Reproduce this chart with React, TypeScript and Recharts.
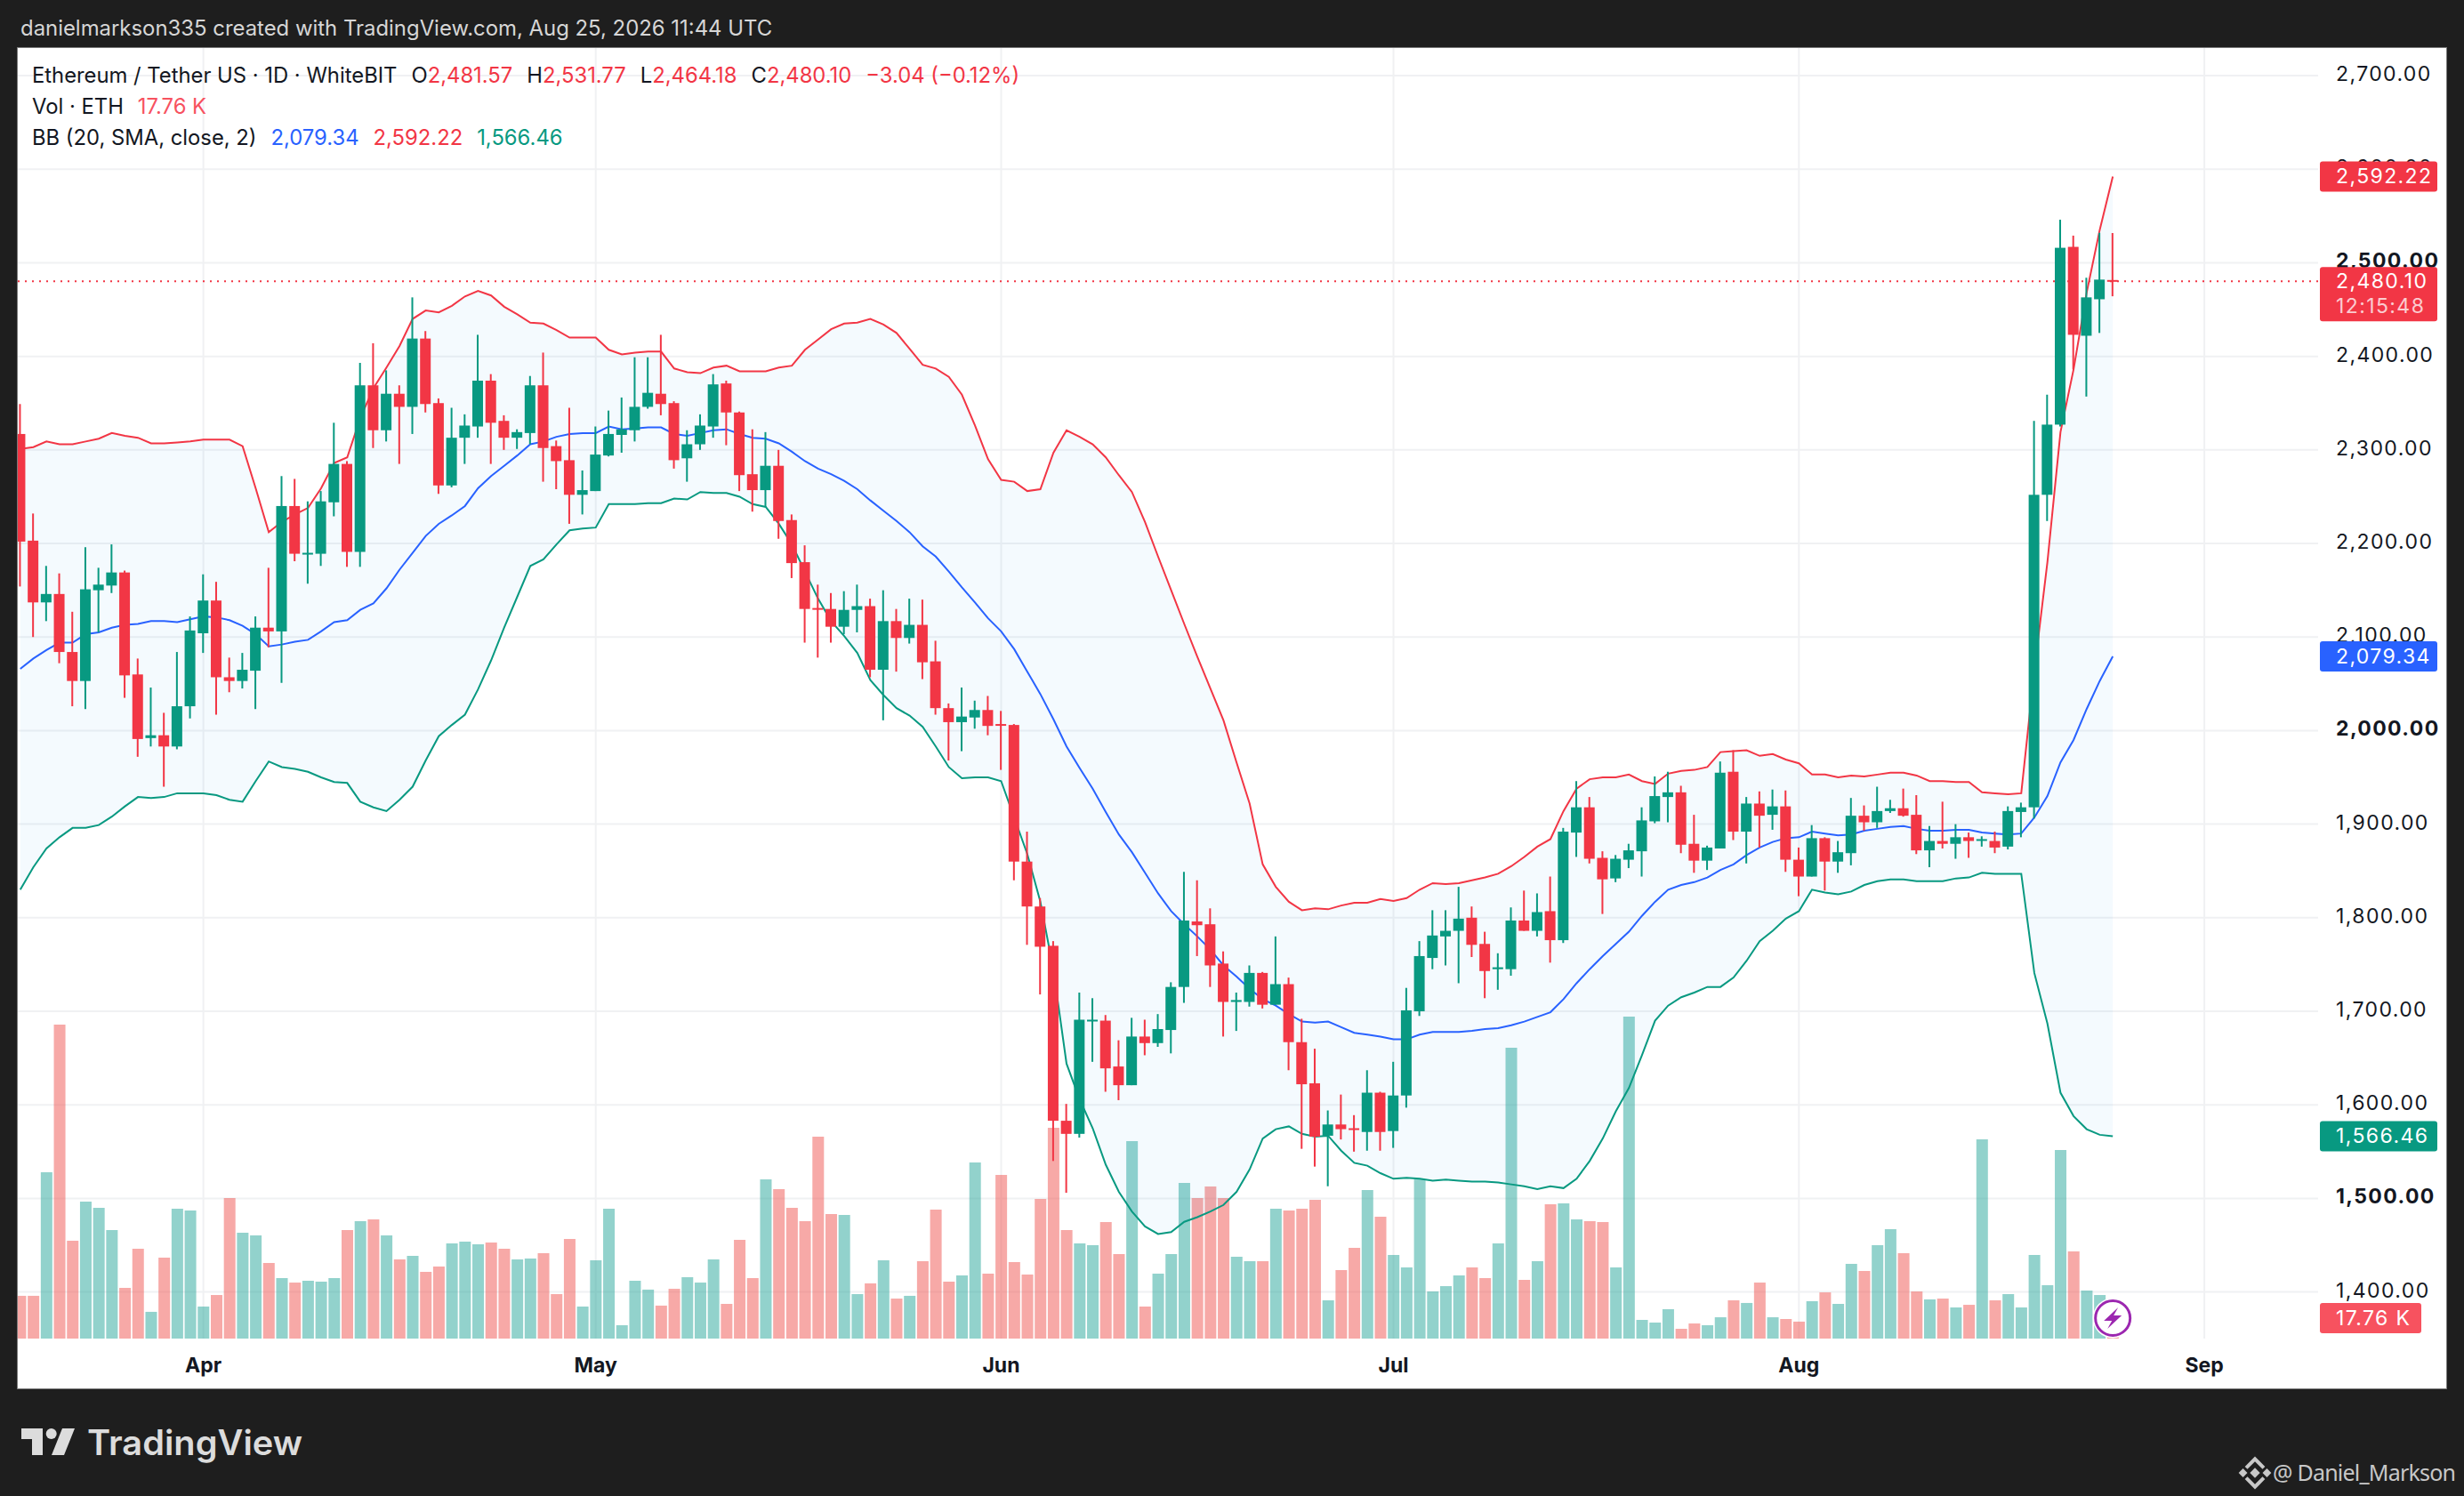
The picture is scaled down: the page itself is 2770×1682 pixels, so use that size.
import {
  Area,
  Bar,
  CartesianGrid,
  Cell,
  ComposedChart,
  Line,
  ReferenceDot,
  ReferenceLine,
  XAxis,
  YAxis,
} from "recharts";

// one entry per day, first candle is Mar 18
const opens = [
  2317, 2203, 2137, 2146, 2084, 2053, 2150, 2155, 2169, 2060,
  1992, 1995, 1983, 2026, 2104, 2139, 2057, 2053, 2064, 2110,
  2106, 2240, 2189, 2189, 2244, 2285, 2191, 2369, 2321, 2360,
  2346, 2419, 2350, 2262, 2313, 2325, 2374, 2331, 2313, 2318,
  2369, 2304, 2289, 2252, 2256, 2294, 2316, 2321, 2346, 2360,
  2350, 2291, 2306, 2325, 2371, 2340, 2274, 2257, 2283, 2225,
  2180, 2131, 2130, 2111, 2129, 2133, 2065, 2117, 2099, 2113,
  2074, 2024, 2009, 2014, 2022, 2007, 2006, 1860, 1812, 1770,
  1583, 1569, 1690, 1690, 1641, 1621, 1673, 1666, 1680, 1726,
  1796, 1793, 1751, 1710, 1710, 1741, 1707, 1729, 1667, 1623,
  1567, 1579, 1575, 1571, 1613, 1572, 1610, 1700, 1757, 1780,
  1786, 1800, 1772, 1745, 1745, 1797, 1786, 1807, 1776, 1891,
  1918, 1864, 1842, 1862, 1871, 1903, 1929, 1934, 1879, 1861,
  1874, 1956, 1892, 1922, 1910, 1919, 1862, 1844, 1885, 1860,
  1869, 1909, 1902, 1914, 1917, 1910, 1872, 1882, 1879, 1886,
  1883, 1882, 1876, 1913, 1918, 2252, 2327, 2517, 2422, 2461, 2481.57,
];
const highs = [
  2349, 2232, 2176, 2168, 2127, 2196, 2174, 2199, 2171, 2077,
  2046, 2019, 2084, 2122, 2167, 2159, 2078, 2083, 2122, 2174,
  2272, 2269, 2245, 2256, 2329, 2288, 2393, 2414, 2385, 2369,
  2463, 2427, 2355, 2345, 2338, 2423, 2381, 2337, 2322, 2379,
  2404, 2310, 2345, 2278, 2325, 2342, 2356, 2399, 2399, 2423,
  2352, 2321, 2338, 2381, 2374, 2341, 2322, 2319, 2300, 2231,
  2198, 2156, 2147, 2149, 2156, 2141, 2150, 2130, 2141, 2140,
  2096, 2029, 2046, 2032, 2037, 2021, 2007, 1892, 1821, 1775,
  1601, 1720, 1714, 1696, 1669, 1693, 1691, 1697, 1731, 1849,
  1840, 1810, 1764, 1720, 1749, 1742, 1780, 1736, 1692, 1660,
  1594, 1611, 1589, 1637, 1614, 1646, 1725, 1775, 1808, 1808,
  1833, 1812, 1785, 1762, 1811, 1829, 1826, 1844, 1896, 1946,
  1929, 1871, 1867, 1879, 1918, 1951, 1956, 1941, 1910, 1877,
  1967, 1979, 1929, 1935, 1937, 1936, 1875, 1899, 1886, 1882,
  1928, 1920, 1940, 1926, 1938, 1931, 1898, 1924, 1900, 1891,
  1887, 1892, 1919, 1923, 2331, 2359, 2546, 2529, 2484, 2532, 2531.77,
];
const lows = [
  2154, 2100, 2117, 2072, 2026, 2023, 2105, 2147, 2035, 1972,
  1983, 1940, 1980, 2013, 2083, 2017, 2041, 2045, 2023, 2089,
  2051, 2181, 2157, 2176, 2229, 2175, 2175, 2302, 2309, 2285,
  2317, 2340, 2253, 2260, 2285, 2313, 2285, 2300, 2301, 2306,
  2266, 2258, 2221, 2231, 2256, 2293, 2297, 2309, 2344, 2337,
  2280, 2266, 2300, 2313, 2305, 2256, 2234, 2239, 2205, 2163,
  2094, 2078, 2094, 2103, 2105, 2057, 2011, 2063, 2093, 2055,
  2017, 1968, 1978, 2002, 1995, 1958, 1840, 1771, 1718, 1540,
  1506, 1565, 1646, 1614, 1605, 1621, 1653, 1662, 1655, 1709,
  1759, 1726, 1673, 1679, 1705, 1703, 1707, 1637, 1553, 1534,
  1513, 1563, 1550, 1551, 1551, 1554, 1597, 1695, 1745, 1749,
  1730, 1758, 1714, 1723, 1738, 1786, 1780, 1752, 1773, 1865,
  1858, 1804, 1838, 1853, 1844, 1901, 1902, 1869, 1848, 1851,
  1874, 1883, 1858, 1875, 1894, 1849, 1823, 1844, 1829, 1848,
  1856, 1893, 1896, 1912, 1908, 1868, 1854, 1874, 1863, 1864,
  1876, 1869, 1873, 1886, 1906, 2224, 2325, 2386, 2357, 2425, 2464.18,
];
const closes = [
  2202, 2137, 2146, 2084, 2053, 2151, 2156, 2169, 2059, 1991,
  1995, 1983, 2026, 2107, 2139, 2057, 2053, 2065, 2110, 2106,
  2240, 2189, 2190, 2245, 2285, 2191, 2369, 2321, 2360, 2346,
  2419, 2349, 2262, 2313, 2326, 2374, 2329, 2313, 2319, 2369,
  2302, 2288, 2252, 2257, 2295, 2317, 2322, 2346, 2361, 2349,
  2289, 2306, 2326, 2370, 2340, 2273, 2257, 2283, 2224, 2179,
  2130, 2130, 2111, 2129, 2133, 2065, 2117, 2099, 2113, 2073,
  2024, 2009, 2015, 2022, 2005, 2006, 1860, 1812, 1769, 1583,
  1569, 1691, 1691, 1639, 1621, 1673, 1666, 1681, 1726, 1797,
  1792, 1749, 1710, 1712, 1741, 1707, 1729, 1667, 1622, 1566,
  1579, 1574, 1574, 1613, 1571, 1610, 1701, 1759, 1781, 1786,
  1799, 1771, 1743, 1747, 1797, 1786, 1806, 1776, 1892, 1918,
  1863, 1841, 1863, 1872, 1904, 1930, 1934, 1878, 1861, 1875,
  1955, 1892, 1922, 1909, 1919, 1862, 1844, 1885, 1860, 1870,
  1909, 1902, 1914, 1917, 1909, 1872, 1882, 1879, 1886, 1882,
  1884, 1875, 1914, 1918, 2252, 2327, 2516, 2423, 2463, 2482, 2480.1,
];
// volume in thousands of ETH
const volumes = [
  37.1, 37.1, 144.3, 272.5, 84.9, 118.9, 113.5, 94.2, 44.0, 78.0,
  23.2, 70.2, 112.7, 111.2, 27.8, 37.8, 122.0, 91.9, 89.5, 65.6,
  52.5, 48.6, 50.2, 49.4, 52.5, 94.2, 101.9, 103.4, 89.5, 68.7,
  71.8, 57.9, 62.5, 82.6, 84.1, 81.8, 83.4, 78.0, 68.7, 69.5,
  74.1, 38.6, 86.5, 27.8, 67.9, 112.7, 11.6, 50.2, 42.5, 28.6,
  43.2, 53.3, 48.6, 68.7, 30.1, 85.7, 52.5, 138.2, 129.7, 113.5,
  101.9, 175.2, 108.1, 107.3, 38.6, 47.9, 67.9, 34.7, 37.1, 67.2,
  111.9, 49.4, 54.8, 152.8, 56.3, 142.0, 66.4, 55.6, 121.2, 182.9,
  94.2, 82.6, 81.0, 101.1, 73.3, 171.4, 27.8, 56.3, 73.3, 135.1,
  122.0, 132.0, 122.0, 71.0, 67.2, 67.2, 112.7, 111.2, 112.7, 120.4,
  33.2, 59.4, 78.7, 128.9, 105.8, 72.6, 61.8, 138.2, 40.9, 45.5,
  54.8, 61.8, 52.5, 82.6, 252.4, 50.9, 67.2, 116.6, 117.3, 103.4,
  101.9, 101.1, 61.8, 279.4, 16.2, 13.9, 25.5, 8.5, 13.1, 11.6,
  18.5, 33.2, 30.9, 48.6, 18.5, 17.0, 14.7, 32.4, 40.1, 30.1,
  64.8, 58.7, 81.0, 94.9, 74.1, 40.9, 34.0, 34.7, 27.0, 29.3,
  172.9, 33.2, 38.6, 27.0, 72.6, 46.3, 163.6, 75.6, 41.7, 37.8, 17.76,
];
const upperBand = [
  2301, 2303, 2309, 2306, 2306, 2309, 2312, 2318, 2315, 2313,
  2307, 2307, 2308, 2309, 2311, 2311, 2311, 2304, 2259, 2212,
  2223, 2231, 2238, 2259, 2286, 2292, 2334, 2366, 2388, 2411,
  2440, 2449, 2447, 2454, 2464, 2470, 2465, 2453, 2445, 2436,
  2435, 2428, 2420, 2420, 2420, 2407, 2402, 2404, 2405, 2405,
  2387, 2383, 2382, 2388, 2390, 2384, 2384, 2384, 2388, 2390,
  2407, 2418, 2429, 2435, 2436, 2440, 2434, 2425, 2408, 2391,
  2387, 2378, 2359, 2326, 2290, 2268, 2266, 2256, 2258, 2297,
  2321, 2314, 2306, 2292, 2273, 2255, 2223, 2186, 2150, 2114,
  2079, 2045, 2011, 1966, 1922, 1857, 1833, 1817, 1808, 1810,
  1809, 1813, 1816, 1816, 1820, 1818, 1821, 1830, 1837, 1836,
  1837, 1840, 1843, 1847, 1855, 1865, 1876, 1884, 1914, 1938,
  1948, 1950, 1950, 1953, 1946, 1943, 1954, 1957, 1958, 1961,
  1977, 1978, 1979, 1973, 1975, 1969, 1965, 1953, 1953, 1950,
  1952, 1951, 1953, 1955, 1955, 1952, 1946, 1946, 1945, 1945,
  1934, 1933, 1932, 1933, 2064, 2180, 2319, 2386, 2468, 2535, 2592.22,
];
const basisBand = [
  2066, 2077, 2086, 2094, 2094, 2103, 2105, 2110, 2113, 2114,
  2117, 2117, 2116, 2119, 2122, 2121, 2118, 2112, 2103, 2090,
  2092, 2095, 2097, 2106, 2116, 2118, 2129, 2136, 2152, 2172,
  2190, 2208, 2221, 2230, 2240, 2259, 2272, 2283, 2294, 2306,
  2309, 2314, 2317, 2318, 2318, 2325, 2322, 2323, 2324, 2324,
  2317, 2315, 2318, 2321, 2322, 2317, 2313, 2312, 2307, 2298,
  2288, 2280, 2274, 2267, 2258, 2246, 2235, 2224, 2212, 2197,
  2186, 2170, 2153, 2137, 2120, 2106, 2087, 2063, 2039, 2012,
  1983, 1960, 1938, 1913, 1889, 1870, 1848, 1826, 1807, 1793,
  1780, 1766, 1749, 1737, 1724, 1713, 1706, 1697, 1689, 1688,
  1689, 1683, 1677, 1675, 1673, 1670, 1670, 1675, 1678, 1678,
  1678, 1679, 1681, 1682, 1685, 1689, 1694, 1699, 1713, 1730,
  1745, 1759, 1772, 1785, 1802, 1817, 1830, 1835, 1838, 1843,
  1851, 1857, 1867, 1875, 1881, 1885, 1886, 1892, 1890, 1888,
  1889, 1893, 1895, 1897, 1898, 1895, 1893, 1893, 1894, 1894,
  1891, 1890, 1889, 1890, 1907, 1930, 1966, 1990, 2023, 2053, 2079.34,
];
const lowerBand = [
  1830, 1854, 1874, 1886, 1896, 1896, 1899, 1908, 1919, 1929,
  1928, 1929, 1933, 1933, 1933, 1931, 1926, 1924, 1946, 1967,
  1961, 1959, 1956, 1950, 1945, 1944, 1924, 1918, 1914, 1926,
  1940, 1968, 1994, 2006, 2017, 2044, 2075, 2110, 2143, 2176,
  2183, 2199, 2214, 2216, 2217, 2242, 2242, 2242, 2243, 2243,
  2248, 2247, 2255, 2254, 2254, 2250, 2242, 2239, 2221, 2199,
  2170, 2141, 2117, 2101, 2083, 2054, 2038, 2024, 2016, 2004,
  1983, 1961, 1949, 1950, 1950, 1946, 1907, 1868, 1817, 1744,
  1644, 1606, 1575, 1536, 1507, 1486, 1470, 1462, 1464, 1475,
  1480, 1486, 1493, 1507, 1531, 1564, 1574, 1577, 1569, 1566,
  1567, 1551, 1538, 1535, 1527, 1521, 1522, 1521, 1519, 1520,
  1519, 1518, 1518, 1517, 1515, 1513, 1510, 1513, 1511, 1521,
  1540, 1564, 1593, 1618, 1653, 1690, 1706, 1715, 1720, 1726,
  1726, 1736, 1754, 1775, 1786, 1799, 1807, 1830, 1827, 1825,
  1828, 1835, 1839, 1841, 1841, 1839, 1839, 1839, 1842, 1843,
  1848, 1847, 1847, 1847, 1741, 1687, 1613, 1588, 1574, 1568, 1566.46,
];

const priceTicks = [1400, 1500, 1600, 1700, 1800, 1900, 2000, 2100, 2200, 2300, 2400, 2500, 2600, 2700];
const monthTicks = [14, 44, 75, 105, 136, 167];
const monthLabels = ["Apr", "May", "Jun", "Jul", "Aug", "Sep"];

const GREEN = "#089981";
const RED = "#f23645";
const BLUE = "#2962ff";
const VOL_RED = "#f7525f";
const FONT = "Inter, sans-serif";
const AXIS_TEXT = { fontFamily: FONT, fontSize: 23, letterSpacing: 1.4 };

const DOMAIN_X: [number, number] = [-0.19, 175.7];
const DOMAIN_PRICE: [number, number] = [1350.2, 2729.5];
const DOMAIN_VOL: [number, number] = [0, 1120];
const MARGIN = { top: 54, right: 20, bottom: 121, left: 20 };

const rows = opens.map((open, i) => ({
  day: i,
  open,
  high: highs[i],
  low: lows[i],
  close: closes[i],
  volume: volumes[i],
  upper: upperBand[i],
  basis: basisBand[i],
  lower: lowerBand[i],
  band: [lowerBand[i], upperBand[i]],
  range: [lows[i], highs[i]],
}));

function Candle(props: any) {
  const { x, y, width, height, payload } = props;
  const h = Math.abs(height);
  const top = height < 0 ? y + height : y;
  const perPrice = h / (payload.high - payload.low);
  const up = payload.close >= payload.open;
  const bodyHigh = Math.max(payload.open, payload.close);
  const bodyLow = Math.min(payload.open, payload.close);
  const bodyY = top + (payload.high - bodyHigh) * perPrice;
  const bodyH = Math.max((bodyHigh - bodyLow) * perPrice, 2);
  const color = up ? GREEN : RED;
  const cx = x + width / 2;
  return (
    <g>
      <rect x={cx - 1} y={top} width={2} height={h} fill={color} />
      <rect x={x} y={bodyY} width={width} height={bodyH} fill={color} />
    </g>
  );
}

function PriceTick(props: any) {
  const { y, payload } = props;
  const bold = payload.value % 500 === 0;
  return (
    <text x={2626} y={y} dy={6} {...AXIS_TEXT} fontWeight={bold ? 700 : 400} fill="#131722">
      {payload.value.toLocaleString("en-US", { minimumFractionDigits: 2 })}
    </text>
  );
}

function MonthTick(props: any) {
  const { x, payload } = props;
  return (
    <text x={x} y={1543} textAnchor="middle" fontFamily={FONT} fontSize={23} fontWeight={700} fill="#131722">
      {monthLabels[monthTicks.indexOf(payload.value)]}
    </text>
  );
}

function tag(label: string, fill: string, width = 132) {
  return (props: any) => (
    <g>
      <rect x={props.cx + 2} y={props.cy - 17} width={width} height={34} rx={3} fill={fill} />
      <text x={props.cx + 20} y={props.cy + 8} {...AXIS_TEXT} fill="#fff">
        {label}
      </text>
    </g>
  );
}

function CloseTag(props: any) {
  return (
    <g>
      <rect x={props.cx + 2} y={props.cy - 16} width={132} height={61} rx={3} fill={RED} />
      <text x={props.cx + 20} y={props.cy + 8} {...AXIS_TEXT} fill="#fff">
        2,480.10
      </text>
      <text x={props.cx + 20} y={props.cy + 36} {...AXIS_TEXT} fill="#ffffff" fillOpacity={0.75}>
        12:15:48
      </text>
    </g>
  );
}

function BoltMark(props: any) {
  const { cx, cy } = props;
  return (
    <g>
      <circle cx={cx} cy={cy} r={22.5} fill="#fff" />
      <circle cx={cx} cy={cy} r={19.5} fill="#fff" stroke="#9c27b0" strokeWidth={3} />
      <path
        d={`M${cx + 6} ${cy - 12} L${cx - 10} ${cy + 3} L${cx - 1} ${cy + 3} L${cx - 6} ${cy + 12} L${cx + 10} ${cy - 3} L${cx + 1} ${cy - 3} Z`}
        fill="#9c27b0"
      />
    </g>
  );
}

const legendRow = {
  position: "absolute" as const,
  left: 36,
  fontFamily: FONT,
  fontSize: 23.8,
  lineHeight: "30px",
  color: "#131722",
  whiteSpace: "pre" as const,
};
const gap = { marginLeft: 16 };

export default function App() {
  return (
    <div style={{ position: "absolute", left: 0, top: 0, width: 2770, height: 1682, background: "#1e1e1e", overflow: "hidden" }}>
      <div style={{ position: "absolute", left: 23, top: 17, fontFamily: FONT, fontSize: 23.9, lineHeight: "30px", color: "#d6d6d6" }}>
        danielmarkson335 created with TradingView.com, Aug 25, 2026 11:44 UTC
      </div>
      <div
        style={{
          position: "absolute",
          left: 20,
          top: 54,
          width: 2730,
          height: 1507,
          background: "#fff",
          outline: "1px solid #7a7a7a",
        }}
      />
      <div style={{ position: "absolute", left: 0, top: 0 }}>
        <ComposedChart width={2770} height={1682} data={rows} margin={MARGIN}>
          <XAxis
            xAxisId="main"
            dataKey="day"
            type="number"
            domain={DOMAIN_X}
            allowDataOverflow
            ticks={monthTicks}
            interval={0}
            height={56}
            axisLine={false}
            tickLine={false}
            tick={<MonthTick />}
          />
          <XAxis xAxisId="vol" dataKey="day" type="number" domain={DOMAIN_X} allowDataOverflow hide />
          <YAxis
            yAxisId="price"
            orientation="right"
            type="number"
            domain={DOMAIN_PRICE}
            allowDataOverflow
            ticks={priceTicks}
            interval={0}
            width={144}
            axisLine={false}
            tickLine={false}
            tick={<PriceTick />}
          />
          <YAxis yAxisId="volume" type="number" domain={DOMAIN_VOL} allowDataOverflow hide />
          <CartesianGrid xAxisId="main" yAxisId="price" stroke="#f0f1f3" strokeWidth={2} syncWithTicks />
          <Bar xAxisId="vol" yAxisId="volume" dataKey="volume" barSize={13} isAnimationActive={false} zIndex={50}>
            {rows.map((r) => (
              <Cell key={r.day} fill={r.close >= r.open ? "#26a69a" : "#ef5350"} fillOpacity={0.5} />
            ))}
          </Bar>
          <Area
            xAxisId="main"
            yAxisId="price"
            dataKey="band"
            stroke="none"
            fill="#2196f3"
            fillOpacity={0.05}
            isAnimationActive={false}
            zIndex={60}
          />
          <Line xAxisId="main" yAxisId="price" dataKey="upper" type="linear" stroke={RED} strokeWidth={2} dot={false} isAnimationActive={false} zIndex={70} />
          <Line xAxisId="main" yAxisId="price" dataKey="basis" type="linear" stroke={BLUE} strokeWidth={2} dot={false} isAnimationActive={false} zIndex={70} />
          <Line xAxisId="main" yAxisId="price" dataKey="lower" type="linear" stroke={GREEN} strokeWidth={2} dot={false} isAnimationActive={false} zIndex={70} />
          <ReferenceLine xAxisId="main" yAxisId="price" y={closes[closes.length - 1]} stroke={RED} strokeWidth={2} strokeDasharray="2 6" zIndex={80} />
          <Bar xAxisId="main" yAxisId="price" dataKey="range" barSize={12} shape={<Candle />} isAnimationActive={false} zIndex={90} />
        </ComposedChart>
      </div>

      {/* second chart on top so the price tags cover the axis labels */}
      <div style={{ position: "absolute", left: 0, top: 0 }}>
        <ComposedChart width={2770} height={1682} data={rows} margin={MARGIN}>
          <XAxis xAxisId="main" dataKey="day" type="number" domain={DOMAIN_X} allowDataOverflow height={56} axisLine={false} tickLine={false} tick={false} />
          <XAxis xAxisId="vol" dataKey="day" type="number" domain={DOMAIN_X} allowDataOverflow hide />
          <YAxis yAxisId="price" orientation="right" type="number" domain={DOMAIN_PRICE} allowDataOverflow width={144} axisLine={false} tickLine={false} tick={false} />
          <YAxis yAxisId="volume" type="number" domain={DOMAIN_VOL} allowDataOverflow hide />
          <ReferenceDot xAxisId="vol" yAxisId="volume" x={160} y={volumes[160]} shape={BoltMark} ifOverflow="visible" />
          <ReferenceDot xAxisId="main" yAxisId="price" x={DOMAIN_X[1]} y={upperBand[160]} shape={tag("2,592.22", RED)} ifOverflow="visible" />
          <ReferenceDot xAxisId="main" yAxisId="price" x={DOMAIN_X[1]} y={closes[160]} shape={CloseTag} ifOverflow="visible" />
          <ReferenceDot xAxisId="main" yAxisId="price" x={DOMAIN_X[1]} y={basisBand[160]} shape={tag("2,079.34", BLUE)} ifOverflow="visible" />
          <ReferenceDot xAxisId="main" yAxisId="price" x={DOMAIN_X[1]} y={lowerBand[160]} shape={tag("1,566.46", GREEN)} ifOverflow="visible" />
          <ReferenceDot xAxisId="vol" yAxisId="volume" x={DOMAIN_X[1]} y={volumes[160]} shape={tag("17.76 K", VOL_RED, 114)} ifOverflow="visible" />
        </ComposedChart>
      </div>

      <div style={{ ...legendRow, top: 70 }}>
        {"Ethereum / Tether US · 1D · WhiteBIT"}
        <span style={gap}>O</span>
        <span style={{ color: RED }}>2,481.57</span>
        <span style={gap}>H</span>
        <span style={{ color: RED }}>2,531.77</span>
        <span style={gap}>L</span>
        <span style={{ color: RED }}>2,464.18</span>
        <span style={gap}>C</span>
        <span style={{ color: RED }}>2,480.10</span>
        <span style={{ ...gap, color: RED }}>−3.04 (−0.12%)</span>
      </div>
      <div style={{ ...legendRow, top: 105 }}>
        {"Vol · ETH"}
        <span style={{ ...gap, color: VOL_RED }}>17.76 K</span>
      </div>
      <div style={{ ...legendRow, top: 140 }}>
        {"BB (20, SMA, close, 2)"}
        <span style={{ ...gap, color: BLUE }}>2,079.34</span>
        <span style={{ ...gap, color: RED }}>2,592.22</span>
        <span style={{ ...gap, color: GREEN }}>1,566.46</span>
      </div>

      <svg width={2770} height={1682} style={{ position: "absolute", left: 0, top: 0, pointerEvents: "none" }}>
        <path d="M24 1606 H48 V1636 H36 V1618 H24 Z" fill="#dcdcdc" />
        <circle cx={57.7} cy={1612} r={6} fill="#dcdcdc" />
        <path d="M70 1606 H84 L72 1636 H58 Z" fill="#dcdcdc" />
        <text x={98} y={1636} fontFamily={FONT} fontSize={39} fontWeight={600} fill="#dcdcdc" textLength={242} lengthAdjust="spacingAndGlyphs">
          TradingView
        </text>
        <g fill="#c8c8c8" transform="translate(2535 1656) rotate(45)">
          <rect x={-4} y={-4} width={8} height={8} />
          <path d="M-13 -13 H3 V-9 H-9 V3 H-13 Z" />
          <path d="M13 13 H-3 V9 H9 V-3 H13 Z" />
          <rect x={6} y={-13} width={7} height={7} />
          <rect x={-13} y={6} width={7} height={7} />
        </g>
        <text x={2555} y={1665} fontFamily="'Noto Sans', sans-serif" fontSize={25} fill="#c8c8c8" textLength={206}>
          @ Daniel_Markson
        </text>
      </svg>
    </div>
  );
}
